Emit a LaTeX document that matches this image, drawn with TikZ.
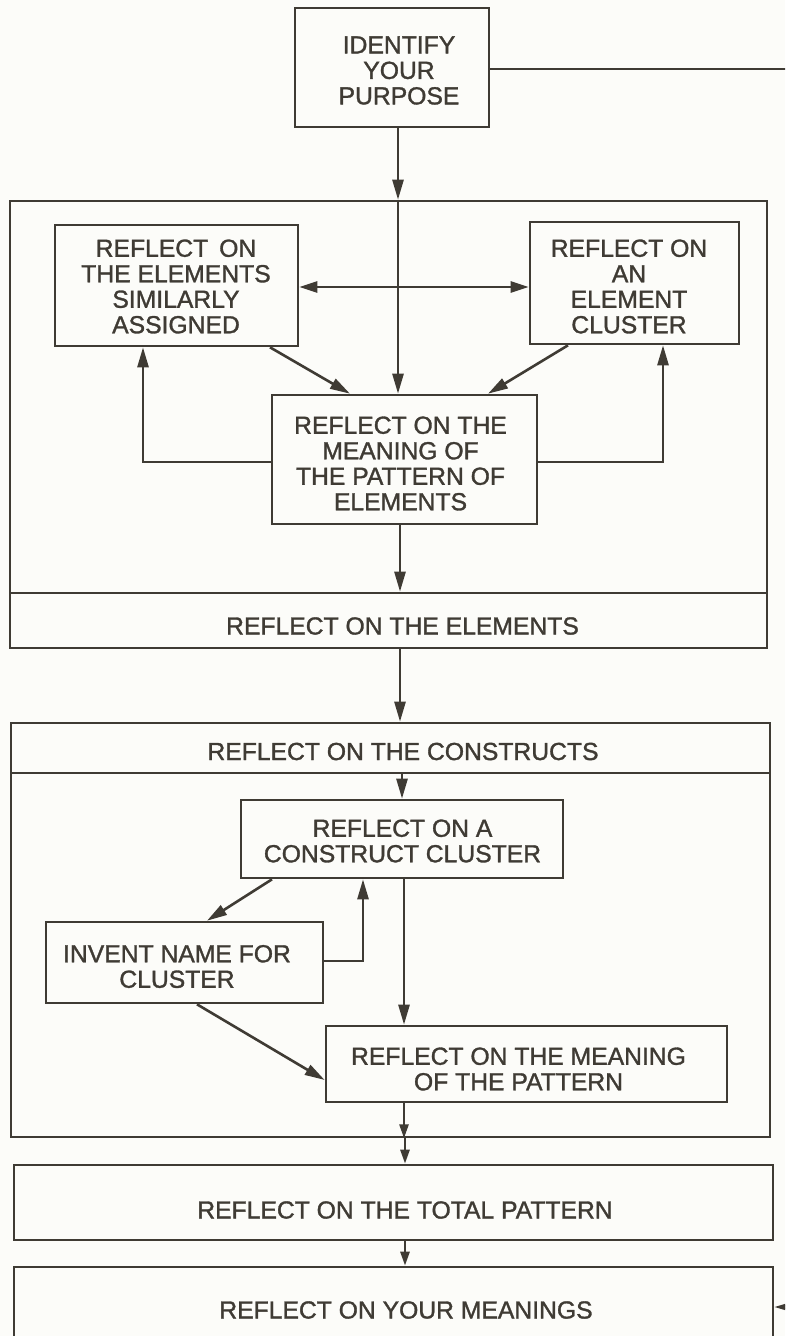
\documentclass[tikz,border=0pt]{standalone}
\usepackage{fontspec}
\setmainfont{Liberation Sans}[FakeBold=1.3]
\usetikzlibrary{arrows.meta,fit}
\definecolor{ink}{HTML}{3F3B34}
\definecolor{paper}{HTML}{FCFCF9}
\begin{document}
\begin{tikzpicture}[x=1pt,y=-1pt,
  box/.style={draw=ink, line width=2.6pt, inner sep=0pt, rectangle},
  txt/.style={text=ink, font=\fontsize{24.7}{25.5}\selectfont, align=center, inner sep=0pt},
  link/.style={draw=ink, line width=2.6pt},
  arr/.style={link, -{Triangle[length=20pt,width=11pt]}},
  sarr/.style={link, -{Triangle[length=14pt,width=9pt]}},
  dblarr/.style={link, {Triangle[length=18pt,width=11pt]}-{Triangle[length=18pt,width=11pt]}}]
\useasboundingbox (0,0) rectangle (785,1336);
\clip (0,0) rectangle (785,1336);
\fill[paper] (0,0) rectangle (785,1336);

% ---- boxes and frames ----
\node[box, fit={(295,8)(489,127)}] (ident) {};
\node[txt] (identtxt) at (399,70.5) {IDENTIFY\\YOUR\\PURPOSE};

\node[box, fit={(10,201)(767,648)}] (elframe) {};
\node[box, fit={(10,593)(767,648)}] (elbar) {};
\node[txt] (elbartxt) at (402.5,626) {REFLECT ON THE ELEMENTS};

\node[box, fit={(55,225)(298,346)}] (simil) {};
\node[txt] (similtxt) at (176,286.5) {REFLECT\, ON\\THE ELEMENTS\\SIMILARLY\\ASSIGNED};
\node[box, fit={(530,222)(739,344)}] (elclu) {};
\node[txt] (eclutxt) at (629,286.5) {REFLECT ON\\AN\\ELEMENT\\CLUSTER};
\node[box, fit={(272,395)(537,524)}] (meanel) {};
\node[txt] (meaneltxt) at (400.5,463.5) {REFLECT ON THE\\MEANING OF\\THE PATTERN OF\\ELEMENTS};

\node[box, fit={(11,723)(770,1137)}] (conframe) {};
\node[box, fit={(11,723)(770,773)}] (conbar) {};
\node[txt] (conbartxt) at (403,751.5) {REFLECT ON THE CONSTRUCTS};

\node[box, fit={(241,800)(563,878)}] (cluster) {};
\node[txt] (clustertxt) at (402.5,841) {REFLECT ON A\\CONSTRUCT CLUSTER};
\node[box, fit={(46,922)(323,1003)}] (invent) {};
\node[txt] (inventtxt) at (177,966.5) {INVENT NAME FOR\\CLUSTER};
\node[box, fit={(326,1026)(727,1102)}] (meaning) {};
\node[txt] (meaningtxt) at (518.5,1069) {REFLECT ON THE MEANING\\OF THE PATTERN};

\node[box, fit={(14,1165)(773,1240)}] (total) {};
\node[txt] (totaltxt) at (405,1210) {REFLECT ON THE TOTAL PATTERN};
\node[box, fit={(14,1267)(773,1360)}] (mean) {};
\node[txt] (meantxt) at (406,1310) {REFLECT ON YOUR MEANINGS};

% ---- guide positions for connectors ----
\coordinate (sp1) at (398,0);
\coordinate (sp2) at (400,0);
\coordinate (sp3) at (402,0);
\coordinate (sp4) at (404,0);
\coordinate (sp5) at (405,0);
\coordinate (hA) at (0,287);
\coordinate (xA) at (270,0);
\coordinate (xB) at (350,0);
\coordinate (xC) at (568,0);
\coordinate (xD) at (488,0);
\coordinate (xE) at (143,0);
\coordinate (xF) at (663,0);
\coordinate (yG) at (0,462);
\coordinate (xH) at (272,0);
\coordinate (xI) at (207,0);
\coordinate (yJ) at (0,961);
\coordinate (xK) at (363,0);
\coordinate (xL) at (197,0);
\coordinate (yM) at (0,1080);
\coordinate (rtop) at (800,69);
\coordinate (rbot) at (800,1307);

% ---- connectors ----
\draw[arr] (ident.south -| sp1) -- (elframe.north -| sp1);
\draw[arr] (elframe.north -| sp1) -- (meanel.north -| sp1);
\draw[dblarr] (simil.east |- hA) -- (elclu.west |- hA);
\draw[arr] (simil.south -| xA) -- (meanel.north -| xB);
\draw[arr] (elclu.south -| xC) -- (meanel.north -| xD);
\draw[arr] (meanel.west |- yG) -| (simil.south -| xE);
\draw[arr] (meanel.east |- yG) -| (elclu.south -| xF);
\draw[arr] (meanel.south -| sp2) -- (elbar.north -| sp2);
\draw[arr] (elbar.south -| sp2) -- (conframe.north -| sp2);
\draw[arr] (conbar.south -| sp3) -- (cluster.north -| sp3);
\draw[arr] (cluster.south -| xH) -- (invent.north -| xI);
\draw[arr] (invent.east |- yJ) -| (cluster.south -| xK);
\draw[arr] (cluster.south -| sp4) -- (meaning.north -| sp4);
\draw[arr] (invent.south -| xL) -- (meaning.west |- yM);
\draw[sarr] (meaning.south -| sp4) -- (conframe.south -| sp4);
\draw[sarr] (conframe.south -| sp5) -- (total.north -| sp5);
\draw[sarr] (total.south -| sp5) -- (mean.north -| sp5);
\draw[arr] (ident.east |- rtop) -- (rtop) -- (rbot) -- (mean.east |- rbot);
\end{tikzpicture}
\end{document}
